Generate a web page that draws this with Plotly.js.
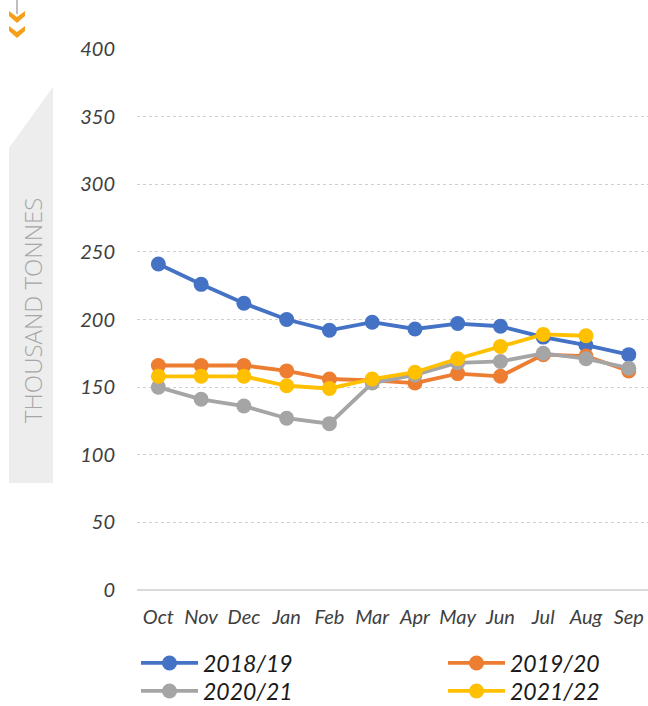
<!DOCTYPE html>
<html>
<head>
<meta charset="utf-8">
<script src="https://cdn.plot.ly/plotly-3.0.1.min.js"></script>
<style>html,body{margin:0;padding:0;background:#fff}#chart{width:648px;height:706px}</style>
</head>
<body>
<div id="chart"></div>
<script>
const months = ["Oct","Nov","Dec","Jan","Feb","Mar","Apr","May","Jun","Jul","Aug","Sep"];
const s2018_19 = [241,226,212,200,192,198,193,197,195,187,181,174];
const s2019_20 = [166,166,166,162,156,155,153,160,158,174,173,162];
const s2020_21 = [150,141,136,127,123,153,159,168,169,175,171,164];
const s2021_22 = [158,158,158,151,149,156,161,171,180,189,188];
const seriesNames = ["2018/19","2019/20","2020/21","2021/22"];
const yTicks = [0,50,100,150,200,250,300,350,400];
const axisTitle = "THOUSAND TONNES";

const W = 648, H = 706;
const mL = 137, mR = 0, mT = 49, mB = 116;
const pw = W - mL - mR, ph = H - mT - mB;
const px2x = p => (p - mL) / pw;
const py2y = p => (H - mB - p) / ph;
const P = (x, y) => px2x(x).toFixed(5) + "," + py2y(y).toFixed(5);

const colors = ["#4472C4","#ED7D31","#A5A5A5","#FFC000"];
const tickFont = {family: "Lato, 'Open Sans', sans-serif", size: 20, color: "#404040", style: "italic"};

function tr(name, y, color, legend) {
  return {
    type: "scatter", mode: "lines+markers", name: name,
    x: months.slice(0, y.length), y: y,
    line: {color: color, width: 3.8},
    marker: {color: color, size: 15},
    legend: legend
  };
}
const data = [
  tr(seriesNames[0], s2018_19, colors[0], "legend"),
  tr(seriesNames[1], s2019_20, colors[1], "legend2"),
  tr(seriesNames[2], s2020_21, colors[2], "legend3"),
  tr(seriesNames[3], s2021_22, colors[3], "legend4")
];

const legendFont = {family: "Lato, 'Open Sans', sans-serif", size: 23, color: "#1a1a1a", style: "italic"};
function leg(xpx, ypx) {
  return {orientation: "v", x: px2x(xpx), xanchor: "left", y: py2y(ypx), yanchor: "middle",
          font: legendFont, itemwidth: 57, tracegroupgap: 0, bgcolor: "rgba(0,0,0,0)"};
}
const layout = {
  width: W, height: H,
  margin: {l: mL, r: mR, t: mT, b: mB, autoexpand: false},
  paper_bgcolor: "#fff", plot_bgcolor: "#fff",
  showlegend: true,
  xaxis: {
    type: "category", categoryarray: months, range: [-0.5, 11.45],
    showgrid: false, showline: false, zeroline: false, ticks: "",
    tickfont: tickFont, ticklabelstandoff: 13, fixedrange: true, automargin: false
  },
  yaxis: {
    range: [0, 400], tickvals: yTicks, ticktext: yTicks.map(String),
    showgrid: true, gridcolor: "#cfcfcf", griddash: "dot", gridwidth: 1,
    zeroline: true, zerolinecolor: "#d9d9d9", zerolinewidth: 2,
    showline: false, ticks: "", tickfont: tickFont, ticklabelstandoff: 21, automargin: false
  },
  legend: leg(136, 663),
  legend2: leg(443, 663),
  legend3: leg(136, 691),
  legend4: leg(443, 691),
  shapes: [
    {type: "path", xref: "paper", yref: "paper", layer: "below",
     path: "M" + P(9,148) + "L" + P(53,87) + "L" + P(53,483) + "L" + P(9,483) + "Z",
     fillcolor: "#ededed", line: {width: 0}},
    {type: "line", xref: "paper", yref: "paper", x0: px2x(17), x1: px2x(17), y0: py2y(0), y1: py2y(14),
     line: {color: "#a8a8a8", width: 1.5}},
    {type: "path", xref: "paper", yref: "paper",
     path: "M" + P(9,11) + "L" + P(17,17) + "L" + P(25,11) + "L" + P(25,16) + "L" + P(17,23) + "L" + P(9,16) + "Z",
     fillcolor: "#F6A01A", line: {width: 0}},
    {type: "path", xref: "paper", yref: "paper",
     path: "M" + P(9,26) + "L" + P(17,32) + "L" + P(25,26) + "L" + P(25,31) + "L" + P(17,38) + "L" + P(9,31) + "Z",
     fillcolor: "#F6A01A", line: {width: 0}}
  ],
  annotations: [
    {xref: "paper", yref: "paper", x: px2x(32), y: py2y(311), text: axisTitle,
     showarrow: false, textangle: -90, xanchor: "center", yanchor: "middle",
     font: {family: "'Open Sans', Lato, sans-serif", size: 24, color: "#a6a6a6", weight: 300}}
  ]
};

Plotly.newPlot("chart", data, layout, {displayModeBar: false, staticPlot: true});
</script>
</body>
</html>
